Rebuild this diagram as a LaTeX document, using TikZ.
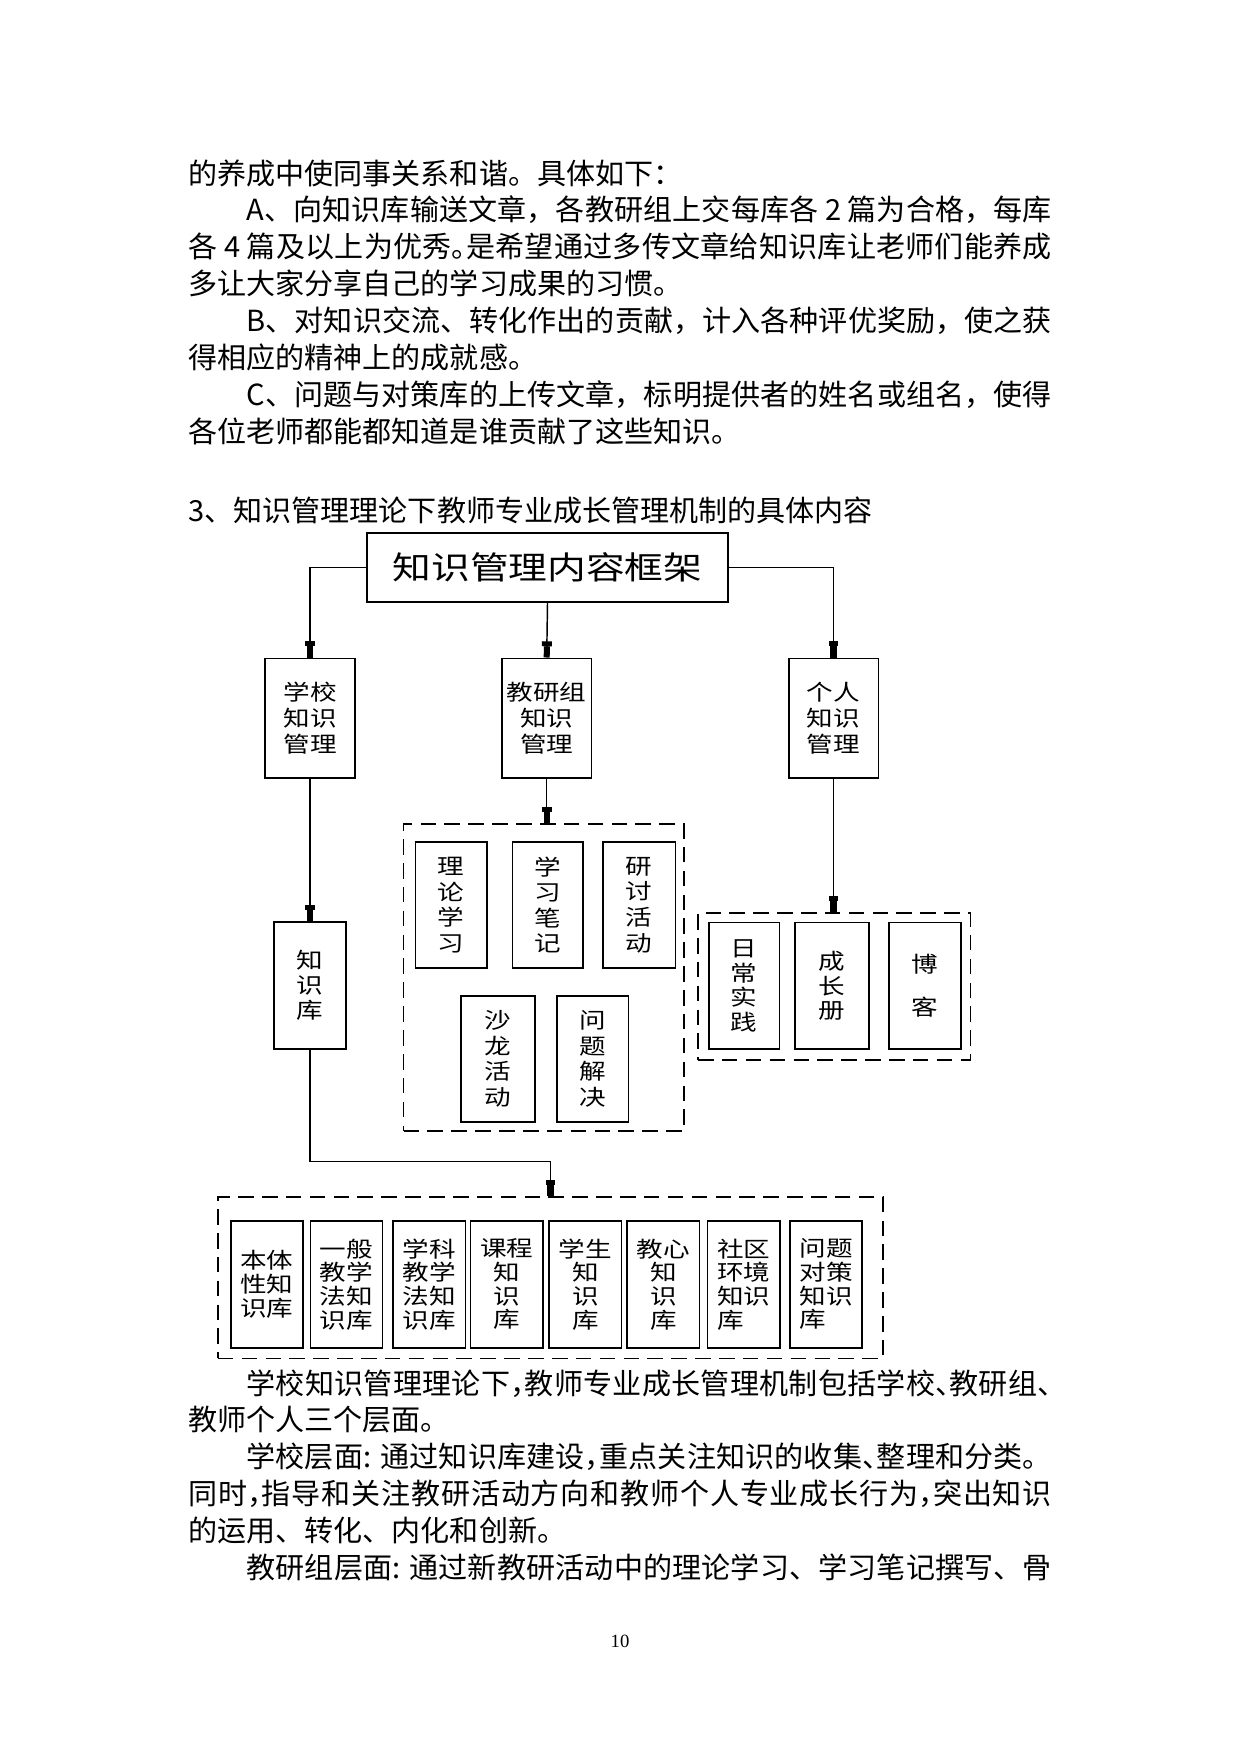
\documentclass[tikz,border=0pt]{standalone}
\usepackage{fontspec}
\setmainfont{Noto Sans CJK SC}
\newfontfamily\dgfont[FakeStretch=1.22]{Noto Sans CJK SC}
\newfontfamily\numfont{Liberation Serif}
\usetikzlibrary{arrows.meta}
\XeTeXlinebreaklocale "zh"
\XeTeXlinebreakskip=0pt plus 2pt minus 0.5pt
\tolerance=9999
\hbadness=10000
\newcommand{\hp}[1]{\makebox[0.5em][l]{#1}}
\tikzset{
  para/.style={anchor=base west, inner sep=0pt, text width=416pt, align=justify,
    font=\fontsize{14pt}{17.8pt}\selectfont},
  solidbox/.style={draw, line width=0.8pt, inner sep=0pt, align=center,
    font=\dgfont\fontsize{10.5pt}{12.3pt}\selectfont},
  mgr/.style={solidbox, minimum width=43.2pt, minimum height=57.5pt,
    font=\dgfont\fontsize{10.5pt}{12.5pt}\selectfont},
  cell/.style={solidbox, minimum width=34.8pt, minimum height=61pt},
  kbcell/.style={cell, font=\dgfont\fontsize{10.5pt}{11.4pt}\selectfont},
  dashbox/.style={draw, line width=0.8pt, dash pattern=on 7.5pt off 4pt, inner sep=0pt},
  arr/.style={line width=0.7pt, -{Rectangle[length=2.4pt,width=4.8pt]Rectangle[length=5.4pt,width=2.9pt]}},
}
\begin{document}
\begin{tikzpicture}[x=0.169333mm, y=-0.169333mm]
\path[fill=white] (0,0) rectangle (1241,1754);
\node[para] (intro) at (188,184) {的养成中使同事关系和谐。具体如下：\par
\hspace*{2em}A、向知识库输送文章，各教研组上交每库各 2 篇为合格，每库\linebreak
各 4 篇及以上为优秀\hp{。}是希望通过多传文章给知识库让老师们能养成\linebreak
多让大家分享自己的学习成果的习惯。\par
\hspace*{2em}B、对知识交流、转化作出的贡献，计入各种评优奖励，使之获\linebreak
得相应的精神上的成就感。\par
\hspace*{2em}C、问题与对策库的上传文章，标明提供者的姓名或组名，使得\linebreak
各位老师都能都知道是谁贡献了这些知识。};
\node[anchor=base west, inner sep=0pt, font=\fontsize{14pt}{17.8pt}\selectfont] (heading) at (188,521) {3、知识管理理论下教师专业成长管理机制的具体内容};

\node[solidbox, minimum width=174.2pt, minimum height=33.5pt, font=\dgfont\fontsize{15.3pt}{18pt}\selectfont] (frame) at (547.5,567.5) {知识管理内容框架};
\node[mgr] (school) at (310,718) {学校\\知识\\管理};
\node[mgr] (group) at (546.7,718) {教研组\\知识\\管理};
\node[mgr] (person) at (833.5,718) {个人\\知识\\管理};
\node[cell, minimum width=34.5pt, minimum height=61.2pt, font=\dgfont\fontsize{10.5pt}{12.1pt}\selectfont] (kb) at (310,985.5) {知\\识\\库};

\node[dashbox, minimum width=135.2pt, minimum height=147.8pt] (grpset) at (543.9,977.35) {};
\node[cell, minimum width=34.4pt] (theory) at (451.25,905) {理\\论\\学\\习};
\node[cell, minimum width=34.0pt] (notes) at (547.7,905) {学\\习\\笔\\记};
\node[cell, minimum width=34.9pt] (seminar) at (639.25,905) {研\\讨\\活\\动};
\node[cell, minimum width=35.4pt, minimum height=60.6pt] (salon) at (498,1058.85) {沙\\龙\\活\\动};
\node[cell, minimum width=34.3pt, minimum height=60.6pt] (solve) at (592.75,1058.85) {问\\题\\解\\决};

\node[dashbox, minimum width=131.2pt, minimum height=70.7pt] (perset) at (834.2,986.65) {};
\node[cell, minimum width=34.0pt, font=\dgfont\fontsize{10.5pt}{11.8pt}\selectfont] (daily) at (744.2,985.8) {日\\常\\实\\践};
\node[cell, minimum width=35.4pt, font=\dgfont\fontsize{10.5pt}{11.8pt}\selectfont] (growth) at (832,985.8) {成\\长\\册};
\node[cell, minimum width=34.4pt] (blog) at (925,985.8) {博\\[8.6pt]客};

\node[dashbox, minimum width=320.6pt, minimum height=77.6pt] (kbset) at (550.5,1277.8) {};
\node[kbcell] (ontology) at (266.9,1284.35) {本体\\性知\\识库};
\node[kbcell] (pedagogy) at (346.55,1284.35) {一般\\教学\\法知\\识库};
\node[kbcell] (subject) at (429.25,1284.35) {学科\\教学\\法知\\识库};
\node[kbcell] (course) at (506.6,1284.35) {课程\\知\\识\\库};
\node[kbcell] (student) at (585.35,1284.35) {学生\\知\\识\\库};
\node[kbcell] (psych) at (663.4,1284.35) {教心\\知\\识\\库};
\node[kbcell, align=left] (community) at (743.65,1284.35) {社区\\环境\\知识\\库};
\node[kbcell, align=left] (problem) at (826.15,1284.35) {问题\\对策\\知识\\库};
\coordinate (turn) at (550.5,1161.7);

\draw[arr] (frame.west) -| (school.north);
\draw[arr] (frame.south) -- (group.north);
\draw[arr] (frame.east) -| (person.north);
\draw[arr] (school.south) -- (kb.north);
\draw[arr] (group.south) -- (group.south |- grpset.north);
\draw[arr] (person.south) -- (person.south |- perset.north);
\draw[arr] (kb.south) |- (turn) -- (kbset.north);

\node[para] (levels) at (188,1394) {\hspace*{2em}学校知识管理理论下\hp{，}教师专业成长管理机制包括学校\hp{、}教研组\hp{、}\linebreak
教师个人三个层面。\par
\hspace*{2em}学校层面: 通过知识库建设\hp{，}重点关注知识的收集\hp{、}整理和分类。\linebreak
同时\hp{，}指导和关注教研活动方向和教师个人专业成长行为\hp{，}突出知识\linebreak
的运用、转化、内化和创新。\par
\hspace*{2em}教研组层面: 通过新教研活动中的理论学习、学习笔记撰写、骨\parfillskip=0pt\par};
\node[anchor=base, inner sep=0pt, font=\numfont\fontsize{9pt}{11pt}\selectfont] (pagenum) at (620,1647) {10};
\end{tikzpicture}
\end{document}
